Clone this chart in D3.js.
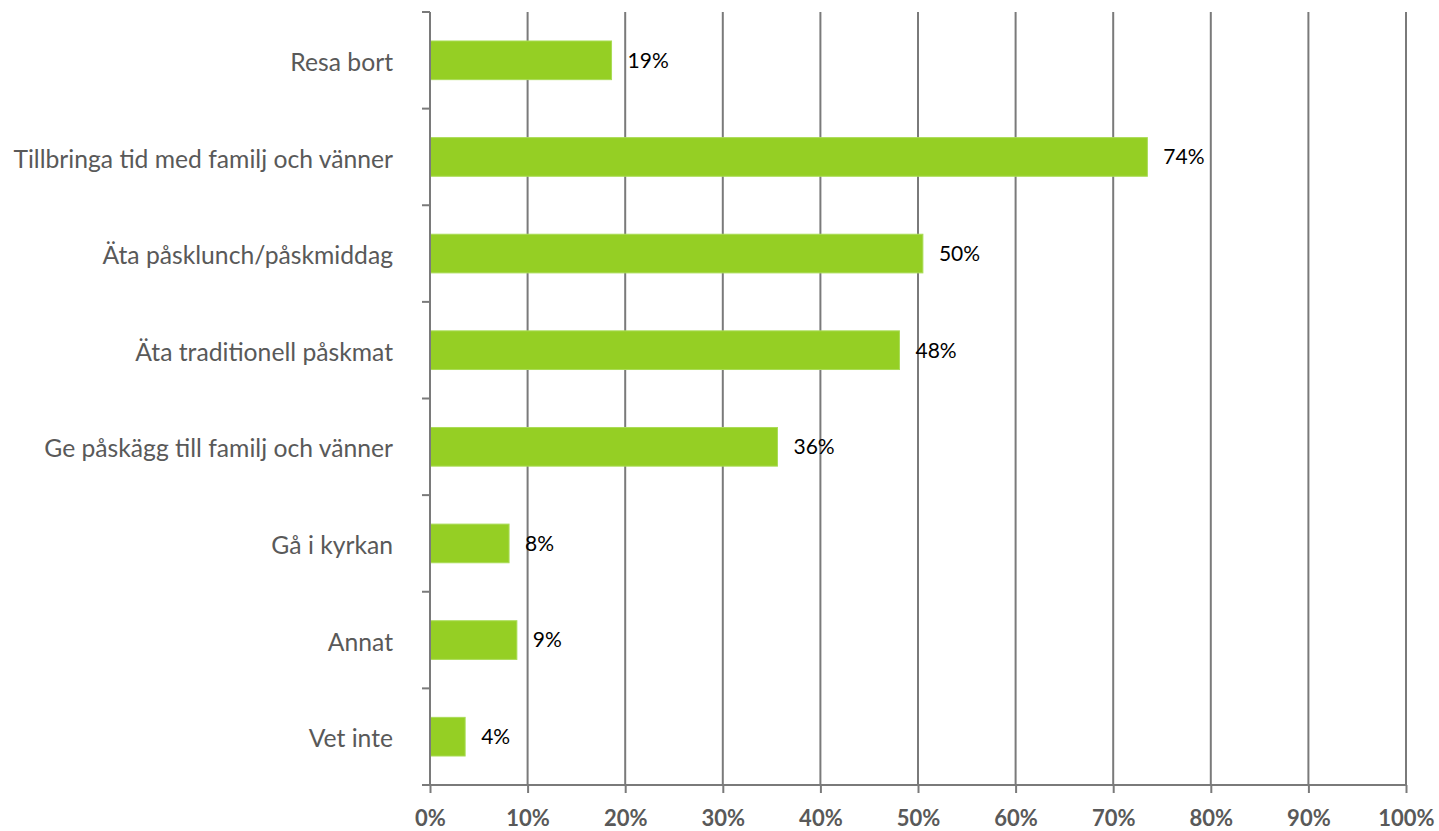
<!DOCTYPE html>
<html>
<head>
<meta charset="utf-8">
<script src="https://cdn.jsdelivr.net/npm/d3@7"></script>
<style>
  body { margin: 0; background: #fff; }
  svg { display: block; }
  text { font-family: Lato, "Open Sans", sans-serif; }
</style>
</head>
<body>
<svg id="chart"></svg>
<script>
const width = 1439;
const height = 831;

// data
const categories = [
  "Resa bort",
  "Tillbringa tid med familj och vänner",
  "Äta påsklunch/påskmiddag",
  "Äta traditionell påskmat",
  "Ge påskägg till familj och vänner",
  "Gå i kyrkan",
  "Annat",
  "Vet inte"
];
const values = [18.6, 73.5, 50.5, 48.1, 35.6, 8.1, 8.9, 3.6];
const valueLabels = ["19%", "74%", "50%", "48%", "36%", "8%", "9%", "4%"];
const xTicks = [0, 10, 20, 30, 40, 50, 60, 70, 80, 90, 100];

const margin = {top: 12, right: 33, bottom: 46, left: 430};
const axisColor = "#7a7a7a";

const svg = d3.select('#chart')
    .attr('width', width).attr('height', height);

const x = d3.scaleLinear()
    .domain([0, 100])
    .range([margin.left, width - margin.right]);

const y = d3.scaleBand()
    .domain(categories)
    .range([margin.top, height - margin.bottom])
    .paddingInner(0.6)
    .paddingOuter(0.3);

// vertical grid lines
svg.append('g')
    .selectAll('line')
    .data(xTicks.slice(1))
    .enter().append('line')
    .attr('x1', d => x(d)).attr('x2', d => x(d))
    .attr('y1', margin.top).attr('y2', height - margin.bottom)
    .style('stroke', axisColor)
    .style('stroke-width', 2);

// bars
svg.append('g')
    .selectAll('rect')
    .data(categories)
    .enter().append('rect')
    .attr('x', x(0))
    .attr('y', d => y(d))
    .attr('width', (d, i) => x(values[i]) - x(0))
    .attr('height', y.bandwidth())
    .style('fill', '#95cf24')
    .style('stroke', '#a9dc55')
    .style('stroke-width', 1);

// value labels
svg.append('g')
    .selectAll('text')
    .data(categories)
    .enter().append('text')
    .attr('x', (d, i) => x(values[i]) + 16)
    .attr('y', d => y(d) + y.bandwidth() / 2)
    .attr('dy', '0.35em')
    .style('font-size', '21px')
    .style('fill', '#000')
    .text((d, i) => valueLabels[i]);

// category axis (left)
const yAxis = svg.append('g')
    .attr('transform', `translate(${x(0)},0)`);
yAxis.append('line')
    .attr('x1', 0).attr('x2', 0)
    .attr('y1', margin.top).attr('y2', height - margin.bottom)
    .style('stroke', axisColor).style('stroke-width', 2);
const yTickPos = d3.range(categories.length + 1).map(i => margin.top + i * (height - margin.bottom - margin.top) / categories.length);
yAxis.selectAll('.tick')
    .data(yTickPos)
    .enter().append('line')
    .attr('x1', -8).attr('x2', 0)
    .attr('y1', d => d).attr('y2', d => d)
    .style('stroke', axisColor).style('stroke-width', 2);
yAxis.selectAll('.cat')
    .data(categories)
    .enter().append('text')
    .attr('x', -37)
    .attr('y', d => y(d) + y.bandwidth() / 2 + 2)
    .attr('dy', '0.35em')
    .attr('text-anchor', 'end')
    .style('font-size', '24.7px')
    .style('fill', '#595959')
    .text(d => d);

// value axis (bottom)
const xAxis = d3.axisBottom(x)
    .tickValues(xTicks)
    .tickSize(8)
    .tickFormat(d => d + '%');
const gx = svg.append('g')
    .attr('transform', `translate(0,${height - margin.bottom})`)
    .call(xAxis);
gx.select('.domain').style('stroke', axisColor).style('stroke-width', 2)
    .attr('d', `M${x(0)},0H${x(100)}`);
gx.selectAll('.tick line').style('stroke', axisColor).style('stroke-width', 2);
gx.selectAll('.tick text')
    .attr('y', 33)
    .attr('dy', '0.35em')
    .style('font-family', 'Lato, sans-serif')
    .style('font-size', '22px')
    .style('font-weight', 'bold')
    .style('fill', '#595959');
</script>
</body>
</html>
